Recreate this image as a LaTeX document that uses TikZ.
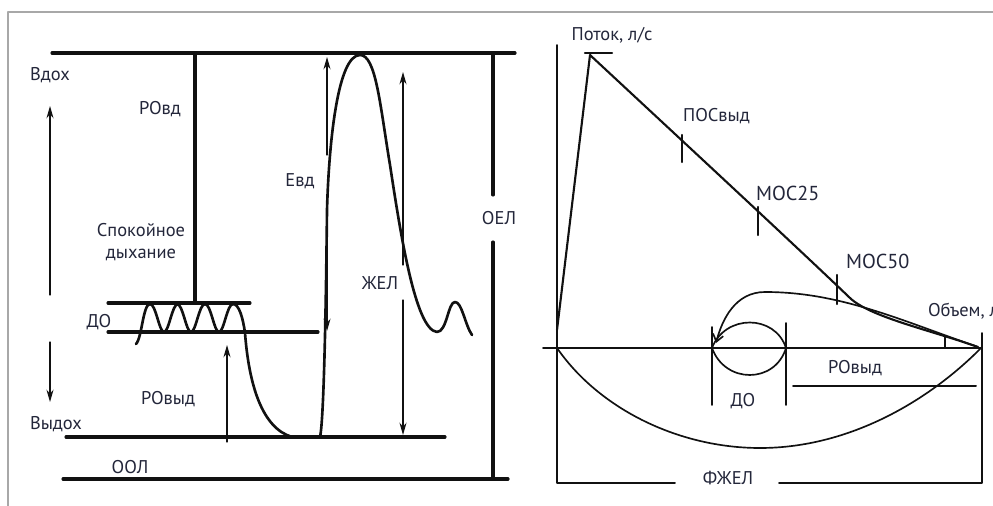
\documentclass[tikz,border=0pt]{standalone}
\usepackage{fontspec}
\setmainfont{PT Sans}
\usetikzlibrary{arrows.meta}
\definecolor{FrameGray}{HTML}{A8A8A8}
\definecolor{LabelInk}{HTML}{23263A}
\definecolor{CurveInk}{HTML}{111111}

\begin{document}
\begin{tikzpicture}[x=0.02cm,y=-0.02cm,line cap=round,line join=round,
  levelline/.style={draw=CurveInk,line width=1.8pt},
  curve/.style={draw=CurveInk,line width=1.5pt},
  flowline/.style={draw=CurveInk,line width=1.2pt},
  thin arrow/.style={draw=CurveInk,line width=0.75pt,-{Stealth[length=7pt,width=4pt]}},
  axis/.style={draw=CurveInk,line width=1.1pt},
  loopline/.style={draw=CurveInk,line width=0.95pt},
  tickmark/.style={draw=CurveInk,line width=1.4pt},
  lbl/.style={text=LabelInk,font=\fontsize{10.5}{11.5}\selectfont,inner sep=1pt}]
  \useasboundingbox (0,0) rectangle (993,506);
  \draw[FrameGray,line width=1.5pt] (8,506) -- (8,12) -- (993,12);
  % spirogram: volume levels
  \begin{scope}
    \draw[levelline] (52,53) -- (515,53);
    \draw[levelline] (195,53) -- (195,303);
    \draw[levelline] (108,303) -- (250,303);
    \draw[levelline] (108,332) -- (318,332);
    \draw[levelline] (66,437) -- (445,437);
    \draw[levelline] (63,479) -- (508,479);
    \draw[levelline] (493,53) -- (493,195) (493,242) -- (493,479);
    % quiet breathing, then forced expiration and full inspiration
    \draw[curve] (136,344) .. controls (142,338) and (143,304) .. (150,304);
    \foreach \p in {150,177,205}
      \draw[curve] (\p,304) .. controls (\p+6,304) and (\p+9,332) .. (\p+14,332)
        .. controls (\p+19,332) and (\p+22,304) .. (\p+28,304);
    \draw[curve] (233,304) .. controls (239,304) and (243,318) .. (245,333)
      .. controls (249,385) and (262,428) .. (292,437) -- (320,437)
      .. controls (324,420) and (326,300) .. (327,210)
      .. controls (329,140) and (338,55) .. (360,55)
      .. controls (376,55) and (380,105) .. (390,165)
      .. controls (400,230) and (415,330) .. (437,332)
      .. controls (447,332) and (448,302) .. (455,302)
      .. controls (462,302) and (465,325) .. (472,335);
    \draw[thin arrow] (50,295) -- (50,106);
    \draw[thin arrow] (50,342) -- (50,402);
    \draw[thin arrow] (227,442) -- (227,345);
    \draw[thin arrow] (327,155) -- (327,57);
    \draw[thin arrow] (327,200) -- (327,331);
    \draw[thin arrow] (403,265) -- (403,72);
    \draw[thin arrow] (403,300) -- (403,435);
    \node[lbl] (inh) at (50,75) {Вдох};
    \node[lbl] (exh) at (56,424) {Выдох};
    \node[lbl] (irv) at (160,109) {РОвд};
    \node[lbl,align=center] (quiet) at (141,242) {Спокойное\\[1pt]дыхание};
    \node[lbl] (tv) at (99,322) {ДО};
    \node[lbl] (erv) at (168,399) {РОвыд};
    \node[lbl] (rv) at (130,467) {ООЛ};
    \node[lbl] (ic) at (300,181) {Евд};
    \node[lbl] (vc) at (380,283) {ЖЕЛ};
    \node[lbl] (tlc) at (499,218) {ОЕЛ};
  \end{scope}
  % flow-volume loop
  \begin{scope}
    \draw[axis] (557,45) -- (557,483) -- (675,483) (779,483) -- (982,483) -- (982,333);
    \draw[axis] (543,348) -- (982,348);
    \draw[tickmark] (585,53) -- (612,53);
    \draw[flowline] (557,330) -- (590,55)
      .. controls (690,148) and (800,250) .. (850,298)
      .. controls (870,317) and (930,330) .. (978,347);
    \draw[loopline,-{Straight Barb[length=4pt,width=6pt]}] (978,347)
      .. controls (900,320) and (840,292) .. (765,292)
      .. controls (735,292) and (722,320) .. (716,343);
    \draw[loopline] (712,348) .. controls (725,314) and (775,314) .. (786,348)
      .. controls (775,384) and (725,384) .. (712,348);
    \draw[loopline] (557,348) .. controls (600,410) and (680,448) .. (760,448)
      .. controls (850,448) and (930,400) .. (982,347);
    \draw[tickmark] (682,135) -- (682,162);
    \draw[tickmark] (758,207) -- (758,235);
    \draw[tickmark] (837,275) -- (837,304);
    \draw[loopline] (945,336) -- (945,348);
    \draw[axis] (712,327) -- (712,405) (786,323) -- (786,405);
    \draw[axis] (793,386) -- (976,386);
    \node[lbl] (flow) at (612,35) {Поток, л/с};
    \node[lbl,anchor=west] (pef) at (681,116) {ПОСвыд};
    \node[lbl,anchor=west,font=\fontsize{11.5}{12}\selectfont] (mef25) at (754,193) {МОС25};
    \node[lbl,anchor=west,font=\fontsize{11.5}{12}\selectfont] (mef50) at (844,261) {МОС50};
    \node[lbl,anchor=west] (vol) at (926,311) {Объем, л};
    \node[lbl] (tv2) at (743,401) {ДО};
    \node[lbl] (erv2) at (855,368) {РОвыд};
    \node[lbl] (fvc) at (728,478) {ФЖЕЛ};
  \end{scope}
\end{tikzpicture}
\end{document}
